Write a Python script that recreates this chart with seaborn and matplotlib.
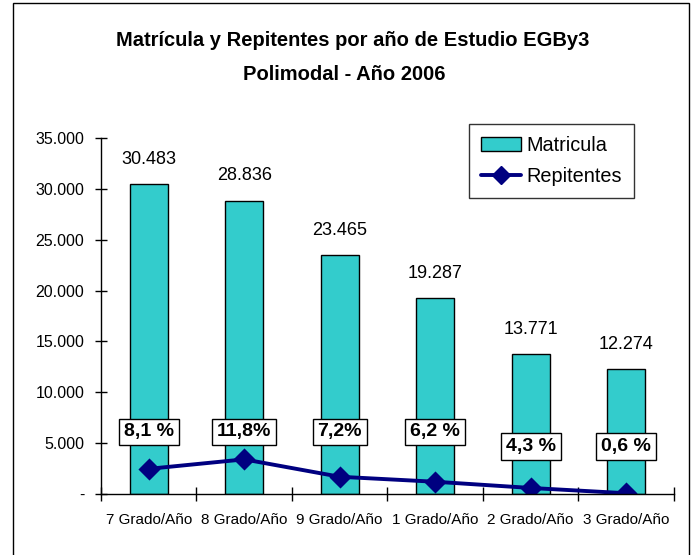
import numpy as np
import pandas as pd
import matplotlib
matplotlib.use("Agg")
import matplotlib.pyplot as plt
from matplotlib.patches import Rectangle, Patch
from matplotlib.lines import Line2D
from matplotlib.ticker import FuncFormatter, FixedLocator
import seaborn as sns

# data
grados = ["7 Grado/Año", "8 Grado/Año", "9 Grado/Año", "1 Grado/Año", "2 Grado/Año", "3 Grado/Año"]
matricula = [30483, 28836, 23465, 19287, 13771, 12274]
repitentes = [2470, 3400, 1690, 1200, 590, 70]
porcentajes = ["8,1 %", "11,8%", "7,2%", "6,2 %", "4,3 %", "0,6 %"]

BAR_COLOR = "#33CCCC"
LINE_COLOR = "#000080"

sns.set_theme(style="white")
plt.rcParams["font.family"] = ["Liberation Sans", "DejaVu Sans"]
plt.rcParams.update({"text.color": "black", "axes.labelcolor": "black",
                     "xtick.color": "black", "ytick.color": "black"})


def miles(v, pos=None):
    if v == 0:
        return "-"
    return f"{int(v):,}".replace(",", ".")


df = pd.DataFrame({"grado": grados, "matricula": matricula, "repitentes": repitentes})

fig = plt.figure(figsize=(6.94, 5.55), dpi=100)
ax = fig.add_axes([0.1455, 0.110, 0.8255, 0.6414])

sns.barplot(data=df, x="grado", y="matricula", color=BAR_COLOR, width=0.4,
            edgecolor="black", linewidth=1, saturation=1, ax=ax)
sns.pointplot(data=df, x="grado", y="repitentes", color=LINE_COLOR, markers="D",
              markersize=9, linewidth=2.8, ax=ax)

ax.set_xlim(-0.5, len(grados) - 0.5)
ax.set_ylim(0, 35000)
ax.set_xlabel("")
ax.set_ylabel("")

# bar value labels
for i, v in enumerate(matricula):
    ax.text(i, v + 1600, miles(v), ha="center", va="bottom", fontsize=13)

# percentage boxes
pct_y = [6100, 6100, 6100, 6100, 4650, 4650]
for i, txt in enumerate(porcentajes):
    ax.text(i, pct_y[i], txt, ha="center", va="center", fontsize=14, fontweight="bold",
            bbox=dict(boxstyle="square,pad=0.25", fc="white", ec="black", lw=1))

# axes styling
for side in ["top", "right"]:
    ax.spines[side].set_visible(False)
for side in ["left", "bottom"]:
    ax.spines[side].set_color("black")
    ax.spines[side].set_linewidth(1)

ax.yaxis.set_major_locator(FixedLocator(np.arange(0, 35001, 5000)))
ax.yaxis.set_major_formatter(FuncFormatter(miles))
ax.tick_params(axis="y", direction="inout", length=8, width=1, labelsize=11.5, left=True, pad=8)
ax.set_xticks(range(len(grados)))
ax.set_xticklabels(grados)
ax.tick_params(axis="x", which="major", length=0, labelsize=11, pad=14)
ax.set_xticks(np.arange(-0.5, len(grados), 1.0), minor=True)
ax.tick_params(axis="x", which="minor", direction="inout", length=10, width=1, bottom=True)

# legend
handles = [
    Patch(facecolor=BAR_COLOR, edgecolor="black", label="Matricula"),
    Line2D([0], [0], color=LINE_COLOR, lw=2.8, marker="D", markersize=9, label="Repitentes"),
]
leg = fig.legend(handles=handles, loc="upper left", bbox_to_anchor=(0.676, 0.777),
                 fontsize=14.3, frameon=True, fancybox=False, edgecolor="black",
                 handlelength=2.0, handletextpad=0.3, borderpad=0.6, labelspacing=0.6,
                 borderaxespad=0)
leg.get_frame().set_linewidth(1)

# title
fig.text(0.508, 1 - 41 / 555, "Matrícula y Repitentes por año de Estudio EGBy3",
         ha="center", va="center", fontsize=14.5, fontweight="bold")
fig.text(0.496, 1 - 75 / 555, "Polimodal - Año 2006",
         ha="center", va="center", fontsize=14.5, fontweight="bold")

# outer frame
fig.patches.append(Rectangle((13 / 694, -0.02), (689 - 13) / 694, 1.02 - 3 / 555,
                             transform=fig.transFigure, fill=False, ec="black", lw=1))

fig.savefig("out.png", dpi=100, facecolor="white")
